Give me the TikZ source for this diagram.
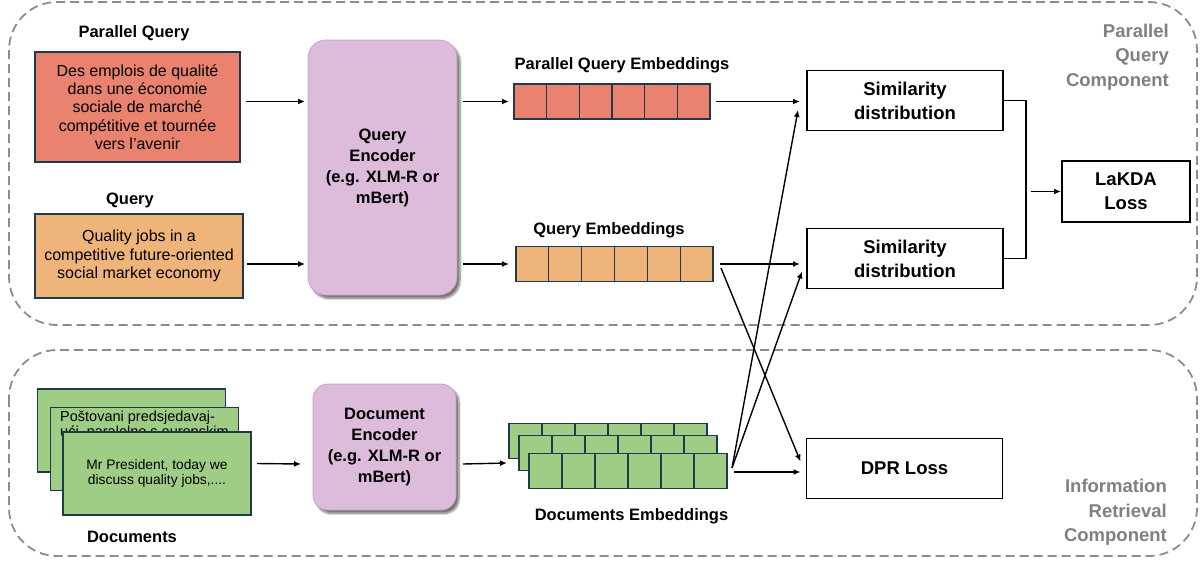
\documentclass[tikz,border=0pt]{standalone}
\usepackage{fontspec}
\setmainfont{Liberation Sans}
\usetikzlibrary{arrows.meta,shadows.blur,calc}
\definecolor{redf}{HTML}{E9836F}
\definecolor{orgf}{HTML}{EFB47A}
\definecolor{pinkf}{HTML}{DDBBDA}
\definecolor{pinkd}{HTML}{C9A3C5}
\definecolor{grnf}{HTML}{9FCD86}
\definecolor{bord}{HTML}{1F3A4B}
\definecolor{grayl}{HTML}{808080}
\definecolor{dashc}{HTML}{8C8C8C}
\newcommand\embrow[5]{%
  \node[emb, fill=#4, minimum width=#5] (#1) at (#2,#3) {};
  \foreach \i in {1,...,5}
    \draw[bord, line width=1.3pt] ($(#1.north west)!\i/6!(#1.north east)$) -- ($(#1.south west)!\i/6!(#1.south east)$);
}
\begin{document}
\begin{tikzpicture}[x=1pt,y=-1pt,
  frame/.style={draw=dashc, line width=1.8pt, dash pattern=on 9pt off 5pt, rounded corners=48pt},
  inbox/.style={draw=bord, line width=1.3pt, align=center, inner sep=0pt, outer sep=0pt, font=\fontsize{16}{18.4}\selectfont},
  page/.style={draw=bord, fill=grnf, line width=1.3pt, inner sep=0pt, outer sep=0pt, minimum width=188pt, minimum height=83pt, align=center, font=\fontsize{13.8}{15}\selectfont},
  title/.style={font=\bfseries\fontsize{16.5}{19}\selectfont, inner sep=0pt},
  enc/.style={draw=pinkd, fill=pinkf, line width=0.8pt, inner sep=0pt, outer sep=0pt, align=center, font=\bfseries\fontsize{16.5}{21}\selectfont, blur shadow={shadow xshift=3pt, shadow yshift=-3.5pt, shadow blur steps=6, shadow opacity=55}},
  outbox/.style={draw=black, line width=1.6pt, inner sep=0pt, outer sep=0pt, minimum width=196pt, minimum height=60pt, align=center, font=\bfseries\fontsize{18.5}{24}\selectfont},
  glabel/.style={text=grayl, align=right, inner sep=0pt, font=\bfseries\fontsize{18.5}{24.5}\selectfont},
  emb/.style={draw=bord, line width=1.3pt, inner sep=0pt, outer sep=0pt, minimum height=35pt},
  arr/.style={-{Latex[length=7pt,width=6pt]}, line width=1.4pt},
  ln/.style={line width=1.4pt}]
\useasboundingbox (0,0) rectangle (1203,563);

% dashed component frames
\draw[frame] (9,2) rectangle (1197,325);
\draw[frame] (9,350) rectangle (1197,556);
\node[glabel, anchor=east] (lpq) at (1169,57) {Parallel\\Query\\Component};
\node[glabel, anchor=east] (lir) at (1167,512.5) {Information\\Retrieval\\Component};

% inputs
\node[title] (tpq) at (134,33) {Parallel Query};
\node[inbox, fill=redf, minimum width=205pt, minimum height=110pt] (pq) at (137.5,107)
  {Des emplois de qualité\\dans une économie\\sociale de marché\\compétitive et tournée\\vers l'avenir};
\node[title] (tq) at (130,200) {Query};
\node[inbox, fill=orgf, minimum width=208pt, minimum height=84pt] (q) at (139,256)
  {Quality jobs in a\\competitive future-oriented\\social market economy};

% documents
\node[page] (p1) at (131.5,430.5) {};
\node[page] (p2) at (144.5,449) {};
\node[anchor=base west, inner sep=0pt, font=\fontsize{14.5}{15.5}\selectfont, align=left] (p2t) at (60,436.5)
  {Poštovani predsjedavaj-\\ući, paralelno s europskim};
\node[page] (p3) at (157,473.5) {Mr President, today we\\discuss quality jobs,....};
\node[title] (td) at (132,537) {Documents};

% encoders
\node[enc, rounded corners=18pt, minimum width=149pt, minimum height=255pt] (qenc) at (382.5,167.5)
  {Query\\Encoder\\(e.g. XLM-R or\\mBert)};
\node[enc, rounded corners=15pt, minimum width=143pt, minimum height=126pt] (denc) at (384.5,447)
  {Document\\Encoder\\(e.g. XLM-R or\\mBert)};

% embeddings
\node[title] (tpqe) at (622,65) {Parallel Query Embeddings};
\embrow{pqe}{612}{101.5}{redf}{196pt}
\node[title] (tqe) at (609,230) {Query Embeddings};
\embrow{qe}{614.5}{264}{orgf}{197pt}
\embrow{r1}{608}{441}{grnf}{198pt}
\embrow{r2}{618}{453}{grnf}{198pt}
\embrow{r3}{628}{471}{grnf}{198pt}
\node[title] (tde) at (631.5,516) {Documents Embeddings};

% outputs
\node[outbox] (sim1) at (905,100.5) {Similarity\\distribution};
\node[outbox] (sim2) at (905,258.5) {Similarity\\distribution};
\node[outbox] (dpr) at (904.5,468.5) {DPR Loss};
\node[outbox, minimum width=128pt, minimum height=61pt] (lakda) at (1126,191.5) {LaKDA\\Loss};

% connectors: inputs -> encoders
\draw[arr] ([xshift=6pt]pq.east |- pqe.west) -- ([xshift=-3pt]qenc.west |- pqe.west);
\draw[arr] ([xshift=4pt]q.east |- qe.west) -- ([xshift=-3pt]qenc.west |- qe.west);
\draw[arr] ($(p3.east)+(6,-10)$) -- ($(denc.west)+(-12,17)$);

% encoders -> embeddings
\draw[arr] ([xshift=6pt]qenc.east |- pqe.west) -- ([xshift=-5pt]pqe.west);
\draw[arr] ([xshift=6pt]qenc.east |- qe.west) -- ([xshift=-7pt]qe.west);
\draw[arr] ($(denc.east)+(7,17)$) -- ($(r1.west)+(-2,22)$);

% embeddings -> outputs
\draw[arr] ([xshift=6pt]pqe.east) -- ([xshift=-7pt]sim1.west |- pqe.east);
\draw[arr] ([xshift=7pt]qe.east) -- ([xshift=-7pt]sim2.west |- qe.east);
\draw[arr] ($(qe.east)+(8,4)$) -- ($(dpr.west)+(-6,-7)$);
\draw[arr] ($(r3.east)+(5,-3)$) -- ($(sim1.west)+(-9,9.5)$);
\draw[arr] ($(r3.east)+(5,-3)$) -- ($(sim2.west)+(-5,13)$);
\draw[arr] ($(r3.east)+(7,1)$) -- ($(dpr.west)+(-6,3.5)$);

% similarity -> LaKDA
\path ($(sim1.east)+(23,0)$) coordinate (jn) ($(sim1.east)+(28,0)$) coordinate (jo);
\draw[ln] (sim1.east) -- (jn) -- (jn |- sim2.east) -- (sim2.east);
\draw[arr] (jo |- lakda.west) -- ([xshift=-1pt]lakda.west);
\end{tikzpicture}
\end{document}
